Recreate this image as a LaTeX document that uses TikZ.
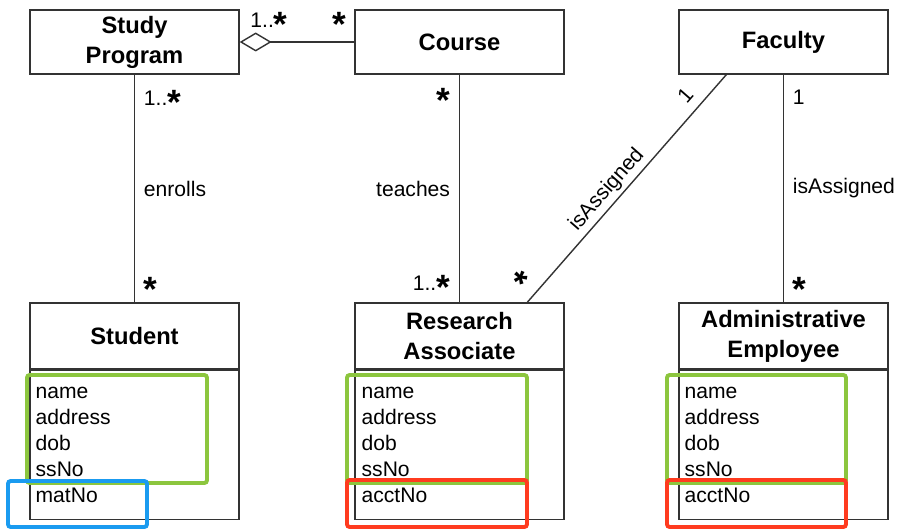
\documentclass[tikz,border=0pt]{standalone}
\usepackage{fontspec}
\setmainfont{Liberation Sans}
\usepackage{xcolor}
\definecolor{umlgreen}{HTML}{8CC63E}
\definecolor{umlblue}{HTML}{1A9BF0}
\definecolor{umlred}{HTML}{FF3B1F}
\definecolor{umlline}{HTML}{333333}
\usepackage{tikz}
\usetikzlibrary{arrows.meta,positioning,calc}
\newcommand{\mstar}{\raisebox{-5.5pt}[8.6pt][0pt]{\fontsize{20}{20}\selectfont\bfseries *}}

\begin{document}
\begin{tikzpicture}[x=0.02cm,y=-0.02cm,
  cls/.style={draw=umlline,line width=0.8pt,minimum width=4.18cm,minimum height=1.28cm,
    align=center,inner sep=0pt,font=\fontsize{13.5}{17}\selectfont\bfseries},
  hdr/.style={cls,minimum height=1.32cm},
  attrbox/.style={draw=umlline,line width=0.8pt,minimum width=4.18cm,minimum height=2.98cm,inner sep=0pt},
  attr/.style={anchor=base west,inner sep=0pt,font=\fontsize{12}{14}\selectfont},
  assoc/.style={draw=umlline,line width=0.8pt},
  lbl/.style={font=\fontsize{12}{14}\selectfont,inner xsep=5pt,inner ysep=2pt},
  greenbox/.style={draw=umlgreen,line width=2.2pt,rounded corners=1.5pt},
  bluebox/.style={draw=umlblue,line width=2.2pt,rounded corners=1.5pt},
  redbox/.style={draw=umlred,line width=2.2pt,rounded corners=1.5pt}]
\useasboundingbox (0,0) rectangle (900,530);

% classes
\node[cls] (sp) at (134.5,42) {Study\\Program};
\node[cls] (course) at (459.5,42) {Course};
\node[cls] (faculty) at (783.5,42) {Faculty};
\node[hdr] (student) at (134.5,336) {Student};
\node[hdr] (ra) at (459.5,336) {Research\\Associate};
\node[hdr] (ae) at (783.5,336) {Administrative\\Employee};
\node[attrbox,below=0pt of student] (stattr) {};
\node[attrbox,below=0pt of ra] (raattr) {};
\node[attrbox,below=0pt of ae] (aeattr) {};

% attributes
\foreach \a [count=\i] in {name,address,dob,ssNo,matNo}
  \node[attr] (st\i) at ($(stattr.north west)+(6,{29+26*(\i-1)})$) {\a};
\foreach \a [count=\i] in {name,address,dob,ssNo,acctNo}
  \node[attr] (ra\i) at ($(raattr.north west)+(7,{29+26*(\i-1)})$) {\a};
\foreach \a [count=\i] in {name,address,dob,ssNo,acctNo}
  \node[attr] (ae\i) at ($(aeattr.north west)+(6,{29+26*(\i-1)})$) {\a};

% associations
\draw[assoc,-{Diamond[open,length=0.64cm,width=0.38cm]}] (course) --
  node[lbl,above=6.5pt,pos=0.128] {\mstar}
  node[lbl,above=6pt,pos=0.744] {1..\mstar} (sp);
\draw[assoc] (sp) --
  node[lbl,right,pos=0.1] {1..\mstar}
  node[lbl,right] {enrolls}
  node[lbl,right,pos=0.92] {\mstar} (student);
\draw[assoc] (course) --
  node[lbl,left,pos=0.092] {\mstar}
  node[lbl,left] {teaches}
  node[lbl,left,pos=0.913] {1..\mstar} (ra);
\draw[assoc] (faculty) --
  node[lbl,right,pos=0.1] {1}
  node[lbl,right] {isAssigned}
  node[lbl,right,pos=0.92] {\mstar} (ae);
\draw[assoc] ([xshift=3.46cm]ra.north west) --
  node[lbl,sloped,above=5pt,pos=0.047] {\mstar}
  node[lbl,sloped,above,pos=0.453] {isAssigned}
  node[lbl,sloped,above=3.4pt,pos=0.86] {1} ([xshift=0.96cm]faculty.south west);

% highlighted groups
\draw[greenbox] (27,375) rectangle (207,483);
\draw[bluebox] (8,481) rectangle (147,527);
\draw[greenbox] (347,375) rectangle (527,483);
\draw[redbox] (347,480) rectangle (527,527);
\draw[greenbox] (667,375) rectangle (846,483);
\draw[redbox] (667,480) rectangle (846,527);
\end{tikzpicture}
\end{document}
